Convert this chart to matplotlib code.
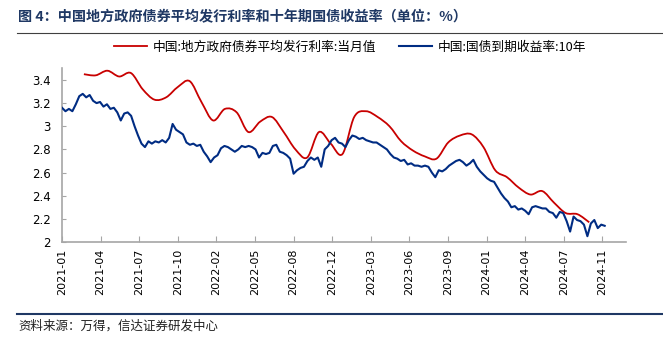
import numpy as np
import matplotlib
matplotlib.use('Agg')
import matplotlib.pyplot as plt
from matplotlib.path import Path
from matplotlib.patches import PathPatch
from matplotlib.lines import Line2D

plt.rcParams['font.family'] = ['Noto Sans CJK SC', 'DejaVu Sans']

# ---------------- data ----------------
tick_labels = ['2021-01', '2021-04', '2021-07', '2021-10', '2022-02', '2022-05',
               '2022-08', '2022-12', '2023-03', '2023-06', '2023-09', '2024-01',
               '2024-04', '2024-07', '2024-11']

# 中国:地方政府债券平均发行利率:当月值 (monthly, 2021-03 .. 2024-10)
red_values = [3.45, 3.44, 3.48, 3.43, 3.46, 3.32, 3.23, 3.25, 3.34, 3.39,
              3.21, 3.05, 3.15, 3.12, 2.95, 3.04, 3.08, 2.95, 2.80, 2.73,
              2.95, 2.85, 2.76, 3.08, 3.13, 3.08, 3.00, 2.87, 2.79, 2.74,
              2.72, 2.86, 2.92, 2.93, 2.82, 2.62, 2.56, 2.47, 2.41, 2.44,
              2.34, 2.25, 2.24, 2.17]

# 中国:国债到期收益率:10年 (sampled every 6 trading days from 2021-01-04)
blue_values = [3.16, 3.13, 3.15, 3.13, 3.19, 3.26, 3.28, 3.25, 3.27, 3.22,
               3.20, 3.21, 3.17, 3.19, 3.15, 3.16, 3.12, 3.05, 3.11, 3.12,
               3.09, 3.00, 2.92, 2.85, 2.82, 2.87, 2.85, 2.87, 2.86, 2.88,
               2.86, 2.90, 3.02, 2.97, 2.95, 2.93, 2.86, 2.84, 2.85, 2.83,
               2.84, 2.78, 2.74, 2.69, 2.73, 2.75, 2.81, 2.83, 2.82, 2.80,
               2.78, 2.80, 2.83, 2.82, 2.83, 2.82, 2.80, 2.73, 2.77, 2.76,
               2.77, 2.83, 2.84, 2.78, 2.77, 2.75, 2.72, 2.59, 2.62, 2.64,
               2.65, 2.70, 2.73, 2.71, 2.73, 2.65, 2.80, 2.83, 2.88, 2.90,
               2.86, 2.85, 2.82, 2.88, 2.92, 2.91, 2.89, 2.90, 2.88, 2.87,
               2.86, 2.86, 2.84, 2.82, 2.80, 2.76, 2.73, 2.72, 2.70, 2.71,
               2.67, 2.68, 2.66, 2.66, 2.65, 2.66, 2.65, 2.60, 2.56, 2.62,
               2.61, 2.63, 2.66, 2.68, 2.70, 2.71, 2.69, 2.66, 2.68, 2.71,
               2.65, 2.61, 2.58, 2.55, 2.53, 2.52, 2.47, 2.42, 2.38, 2.35,
               2.30, 2.31, 2.28, 2.29, 2.27, 2.24, 2.30, 2.31, 2.30, 2.29,
               2.29, 2.26, 2.25, 2.21, 2.26, 2.25, 2.18, 2.09, 2.22, 2.19,
               2.18, 2.15, 2.05, 2.16, 2.19, 2.12, 2.15, 2.14]

red_label = '中国:地方政府债券平均发行利率:当月值'
blue_label = '中国:国债到期收益率:10年'

# ---------------- axis geometry (trading-day index) ----------------
BLUE_STEP = 6        # trading days between blue samples
TICK_STEP = 67       # trading days between category labels
RED_START = 38       # trading-day index of first monthly observation
RED_STEP = 20.4      # average trading days per month
X_MAX = 979

RED = '#C80000'
BLUE = '#002C83'
AXIS = '#A6A6A6'
TITLE = '#1F3864'

blue_x = np.arange(len(blue_values)) * BLUE_STEP
red_x = RED_START + np.arange(len(red_values)) * RED_STEP


def smooth_path(x, y):
    """Catmull-Rom curve through the points, as cubic Bezier segments."""
    p = np.column_stack([x, y]).astype(float)
    pts = np.vstack([p[0], p, p[-1]])
    verts = [p[0]]
    codes = [Path.MOVETO]
    for i in range(1, len(pts) - 2):
        p0, p1, p2, p3 = pts[i - 1], pts[i], pts[i + 1], pts[i + 2]
        c1 = p1 + (p2 - p0) / 6.0
        c2 = p2 - (p3 - p1) / 6.0
        verts += [c1, c2, p2]
        codes += [Path.CURVE4] * 3
    return Path(verts, codes)


W, H = 663, 340
fig = plt.figure(figsize=(W / 100, H / 100), dpi=100)
ax = fig.add_axes([62 / W, (H - 242) / H, (626 - 62) / W, (242 - 68.4) / H])

ax.plot(blue_x, blue_values, color=BLUE, lw=1.5, solid_joinstyle='round', zorder=3)
ax.add_patch(PathPatch(smooth_path(red_x, red_values), facecolor='none',
                       edgecolor=RED, lw=1.3, zorder=2))

ax.set_xlim(0, X_MAX)
ax.set_ylim(2, 3.5)
yt = np.arange(2.0, 3.41, 0.2)
ax.set_yticks(yt)
ax.set_yticklabels(['%g' % round(v, 1) for v in yt], family='DejaVu Sans', fontsize=8.5)
xt = np.arange(len(tick_labels)) * TICK_STEP
ax.set_xticks(xt)
ax.set_xticklabels(tick_labels, rotation=90, family='DejaVu Sans', fontsize=8)

for s in ['top', 'right']:
    ax.spines[s].set_visible(False)
for s in ['left', 'bottom']:
    ax.spines[s].set_color(AXIS)
    ax.spines[s].set_linewidth(1.2)
ax.tick_params(axis='x', direction='in', length=4, color=AXIS, pad=5)
ax.tick_params(axis='y', direction='in', length=3, color=AXIS, pad=8)

handles = [Line2D([], [], color=RED, lw=1.3), Line2D([], [], color=BLUE, lw=1.5)]
fig.legend(handles, [red_label, blue_label], loc='center', ncol=2, frameon=False,
           bbox_to_anchor=(350 / W, 1 - 47 / H), fontsize=9.2, handlelength=2.6,
           handletextpad=0.4, columnspacing=1.8)

fig.text(18 / W, 1 - 17 / H, '图 4：中国地方政府债券平均发行利率和十年期国债收益率（单位：%）',
         fontsize=10.2, fontweight='bold', color=TITLE, va='center')
fig.add_artist(Line2D([17 / W, 1], [1 - 33 / H] * 2, color='#404040', lw=0.8))
fig.add_artist(Line2D([17 / W, 1], [1 - 314 / H] * 2, color=TITLE, lw=1.5))
fig.text(18 / W, 1 - 326 / H, '资料来源：万得，信达证券研发中心', fontsize=9,
         style='italic', color='#222222', va='center')

fig.savefig('out.png', dpi=100)
